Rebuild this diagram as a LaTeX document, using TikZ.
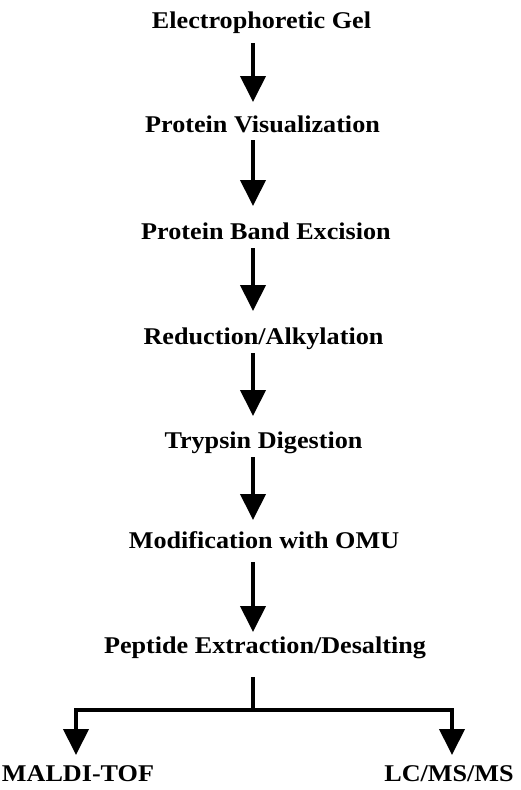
\documentclass[tikz,border=0pt]{standalone}
\usepackage{fontspec}
\setmainfont{Liberation Serif}
\usetikzlibrary{arrows.meta}
\begin{document}
\begin{tikzpicture}[x=1pt,y=-1pt,
  lbl/.style={font=\bfseries\fontsize{24}{28}\selectfont, inner sep=0pt, anchor=base, xscale=1.09},
  flow/.style={line width=4pt, -{Triangle[width=25pt,length=26pt]}},
  bar/.style={line width=4pt}]
\useasboundingbox (0,0) rectangle (520,790);
\node[lbl] (n1) at (261.5,28.3) {Electrophoretic Gel};
\node[lbl] (n2) at (262.5,132.3) {Protein Visualization};
\node[lbl] (n3) at (266,239.3) {Protein Band Excision};
\node[lbl] (n4) at (263.5,344.3) {Reduction/Alkylation};
\node[lbl] (n5) at (263.5,448.7) {Trypsin Digestion};
\node[lbl] (n6) at (264,548.3) {Modification with OMU};
\node[lbl] (n7) at (265,653) {Peptide Extraction/Desalting};
\node[lbl] (m1) at (78,781.7) {MALDI-TOF};
\node[lbl] (m2) at (449,781.7) {LC/MS/MS};
\coordinate (a1s) at (253,43); \coordinate (a1e) at (253,102);
\coordinate (a2s) at (253,140); \coordinate (a2e) at (253,206);
\coordinate (a3s) at (253,248); \coordinate (a3e) at (253,311);
\coordinate (a4s) at (253,353); \coordinate (a4e) at (253,416);
\coordinate (a5s) at (253,457); \coordinate (a5e) at (253,520);
\coordinate (a6s) at (253,562); \coordinate (a6e) at (253,632);
\draw[flow] (a1s) -- (a1e);
\draw[flow] (a2s) -- (a2e);
\draw[flow] (a3s) -- (a3e);
\draw[flow] (a4s) -- (a4e);
\draw[flow] (a5s) -- (a5e);
\draw[flow] (a6s) -- (a6e);
\coordinate (b0) at (253,677);
\coordinate (bj) at (253,710);
\coordinate (bl) at (76,710);
\coordinate (br) at (452,710);
\coordinate (tl) at (76,755);
\coordinate (tr) at (452,755);
\draw[bar] (b0) -- (bj);
\draw[flow] ([xshift=-2pt]br) -- (bl) -- (tl);
\draw[flow] (bj) -- (br) -- (tr);
\end{tikzpicture}
\end{document}
